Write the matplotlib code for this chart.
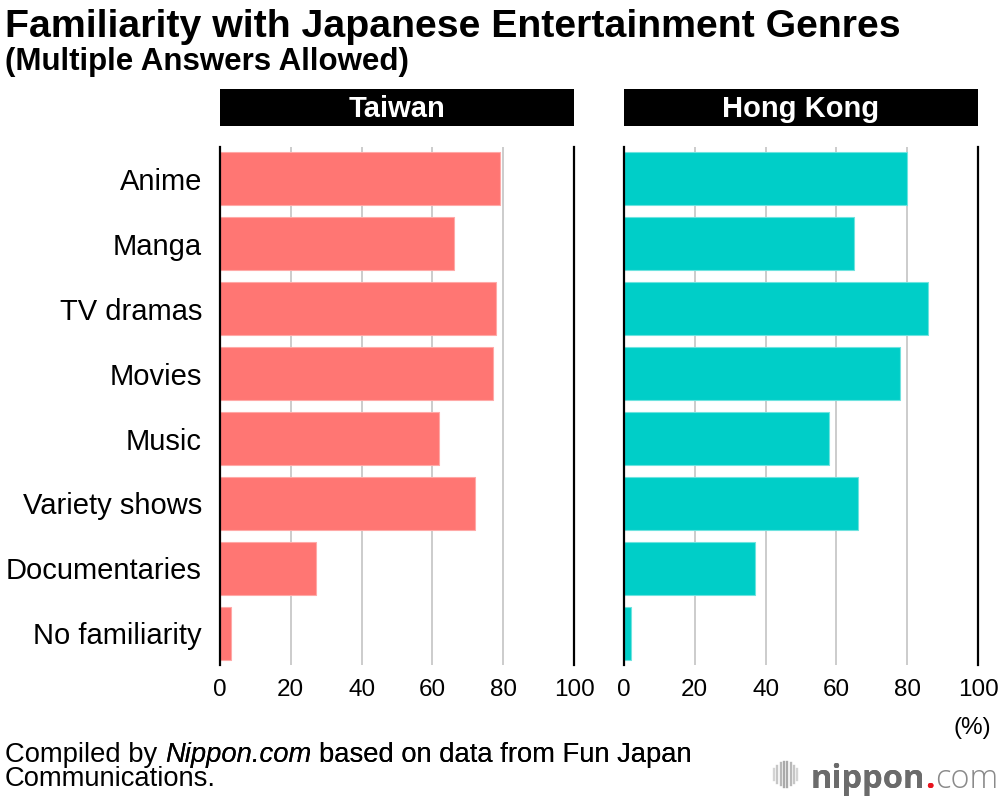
import matplotlib
matplotlib.use("Agg")
import matplotlib.pyplot as plt
from matplotlib.lines import Line2D

plt.rcParams['font.family'] = ['Liberation Sans', 'DejaVu Sans']

# --- data ---
genres = ['Anime', 'Manga', 'TV dramas', 'Movies', 'Music',
          'Variety shows', 'Documentaries', 'No familiarity']
taiwan = [79, 66, 78, 77, 62, 72, 27, 3]
hongkong = [80, 65, 86, 78, 58, 66, 37, 2]
regions = ['Taiwan', 'Hong Kong']
xticks = [0, 20, 40, 60, 80, 100]

fig = plt.figure(figsize=(10, 7.96), dpi=100)

panels = [
    (0.220, taiwan, '#ff7673', '#ffa9a7', True),
    (0.624, hongkong, '#00cec8', '#6fe3df', False),
]

for (x0, vals, col, edge, show_lab), name in zip(panels, regions):
    ax = fig.add_axes([x0, 0.1646, 0.354, 0.6508])
    ax.barh(range(len(genres)), vals, height=0.815, color=col,
            edgecolor=edge, linewidth=0.8, zorder=2)
    ax.set_xlim(0, 100)
    ax.set_ylim(7.488, -0.493)
    for s in ax.spines.values():
        s.set_visible(False)
    ax.set_xticks(xticks)
    ax.grid(axis='x', color='#cccccc', linewidth=1.4, zorder=0)
    ax.set_axisbelow(True)
    ax.axvline(0, color='black', linewidth=1.6, zorder=4, clip_on=False)
    ax.axvline(100, color='black', linewidth=1.6, zorder=4, clip_on=False)
    ax.tick_params(axis='x', length=0, labelsize=17.5, pad=10)
    ax.set_yticks(range(len(genres)))
    if show_lab:
        ax.set_yticklabels(genres, fontsize=21)
        ax.tick_params(axis='y', length=0, pad=13)
    else:
        ax.tick_params(axis='y', length=0, labelleft=False)

    # black header strip
    hdr = fig.add_axes([x0, 0.8417, 0.354, 0.0465])
    hdr.set_facecolor('black')
    hdr.set_xticks([]); hdr.set_yticks([])
    for s in hdr.spines.values():
        s.set_visible(False)
    hdr.text(0.5, 0.47, name, color='white', fontsize=21, fontweight='bold',
             ha='center', va='center', transform=hdr.transAxes)

# titles
fig.text(0.005, 1 - 37 / 796, 'Familiarity with Japanese Entertainment Genres',
         fontsize=28.3, fontweight='bold', va='baseline')
fig.text(0.005, 1 - 70 / 796, '(Multiple Answers Allowed)',
         fontsize=22.5, fontweight='bold', va='baseline')

fig.text(0.991, 1 - 728 / 796, '(%)', fontsize=17.5, ha='right', va='center')

# source note (plain / italic / plain pieces chained together)
fs = 19.7
sp = 0.278 * fs
src1 = fig.text(0.005, 1 - 762 / 796, 'Compiled by', fontsize=fs, va='baseline')
src2 = fig.add_artist(plt.annotate('Nippon.com', xy=(1, 0), xycoords=src1,
                                   xytext=(sp, 0), textcoords='offset points',
                                   fontsize=fs, style='italic', va='bottom',
                                   annotation_clip=False))
src3 = fig.add_artist(plt.annotate('based on data from Fun Japan', xy=(1, 0),
                                   xycoords=src2, xytext=(sp, 0),
                                   textcoords='offset points', fontsize=fs,
                                   va='bottom', annotation_clip=False))
fig.text(0.005, 1 - 786 / 796, 'Communications.', fontsize=fs, va='baseline')

# nippon.com logo
logo_kw = dict(fontsize=23.5, family='Open Sans', ha='right', va='bottom')
com = fig.text(0.998, 0.0, 'com', color='#8a8a8a', fontweight='light', **logo_kw)
ann_dot = fig.add_artist(plt.annotate('.', xy=(0, 0), xycoords=com,
                                      color='#e8141e', fontweight='bold',
                                      annotation_clip=False, **logo_kw))
fig.add_artist(plt.annotate('nippon', xy=(0, 0), xycoords=ann_dot,
                            color='#6b6b6b', fontweight='bold',
                            annotation_clip=False, **logo_kw))

# sound-wave icon
W, H = 1000.0, 796.0
icon_x = [774, 777.3, 780.6, 783.9, 787.2, 790.5, 793.8, 797]
icon_h = [11, 17, 22, 25, 25, 22, 17, 11]
icon_c = ['#d4d4d4', '#c6c6c6', '#b8b8b8', '#aaaaaa', '#aaaaaa',
          '#b8b8b8', '#c6c6c6', '#d4d4d4']
for px, h, c in zip(icon_x, icon_h, icon_c):
    fig.add_artist(Line2D([px / W, px / W],
                          [1 - (774 + h / 2) / H, 1 - (774 - h / 2) / H],
                          transform=fig.transFigure, color=c, linewidth=1.7))

fig.savefig('out.png', dpi=100)
